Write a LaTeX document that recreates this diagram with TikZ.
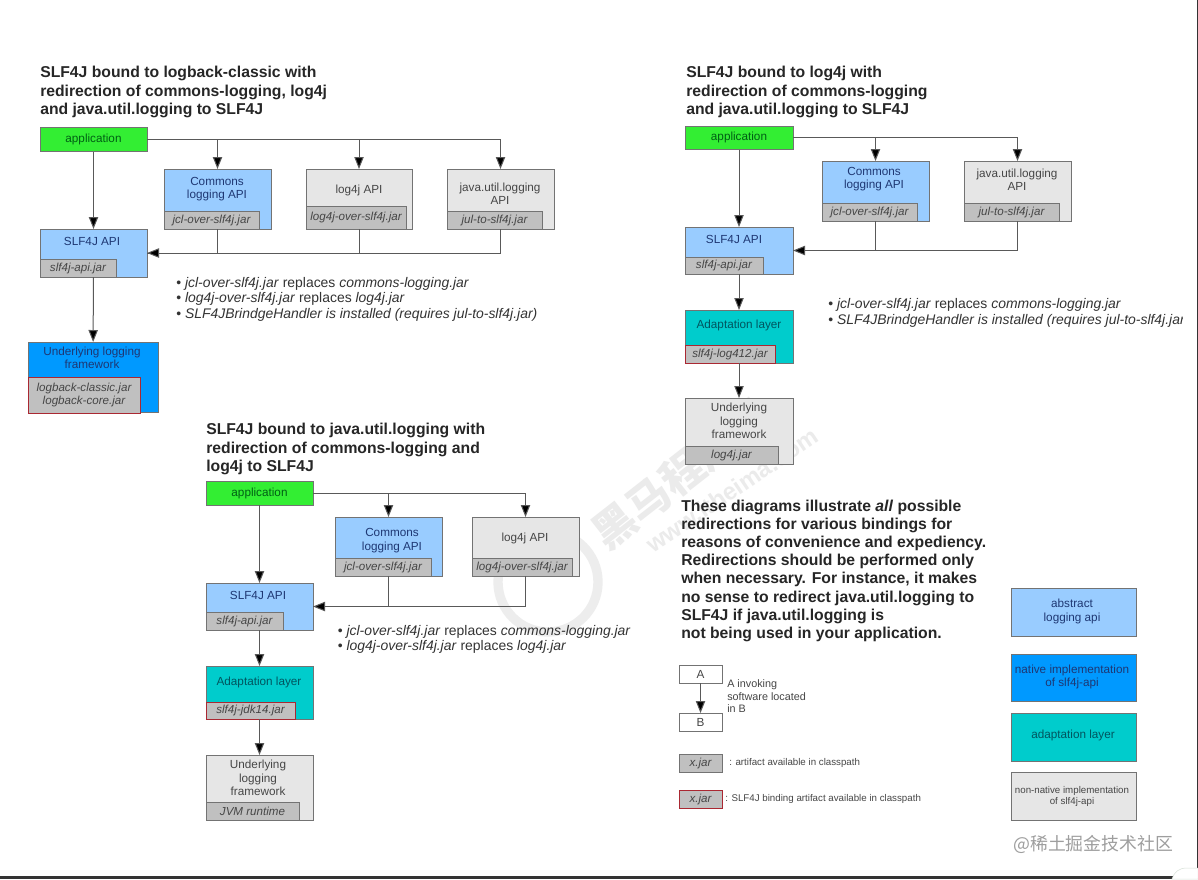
\documentclass[tikz,border=0pt]{standalone}
\usepackage{fontspec}
\setmainfont{Liberation Sans}
\newfontfamily\cjk{Noto Sans CJK SC}
\usetikzlibrary{arrows.meta}
\definecolor{appgreen}{RGB}{51,238,51}
\definecolor{apiblue}{RGB}{153,204,255}
\definecolor{nativeblue}{RGB}{0,153,255}
\definecolor{adapteal}{RGB}{0,204,204}
\definecolor{nonnative}{RGB}{230,230,230}
\definecolor{jargray}{RGB}{192,192,192}
\definecolor{jarred}{RGB}{170,40,50}
\definecolor{inkgray}{RGB}{70,70,70}
\definecolor{inkblue}{RGB}{30,55,115}
\definecolor{inkteal}{RGB}{0,85,95}
\definecolor{inkgreen}{RGB}{0,95,20}
\tikzset{
  boxlabel/.style={inner sep=0pt,align=center,font=\fontsize{8.8}{10}\selectfont,text=inkgray},
  bluelabel/.style={boxlabel,text=inkblue},
  teallabel/.style={boxlabel,text=inkteal},
  boxline/.style={draw=black!55,line width=0.75pt,inner sep=0pt,outer sep=0pt},
  conn/.style={draw=black!65,line width=0.75pt},
  connarrow/.style={conn,-{Triangle[length=9pt,width=7pt,fill=black]}},
  title/.style={anchor=west,inner sep=0pt,align=left,font=\bfseries\fontsize{11.8}{13.55}\selectfont,text=black!85},
  bullets/.style={anchor=north west,inner sep=0pt,align=left,font=\fontsize{10.45}{11.7}\selectfont,text=black!80},
  note/.style={inner sep=0pt,anchor=west,align=left,text=inkgray},
  jarlabel/.style={align=center,font=\itshape\fontsize{8.7}{10}\selectfont,text=inkgray},
}
% box: name, x1, y1, x2, y2, fill
\newcommand{\slfbox}[6]{
  \node[boxline,fill=#6,minimum width=#4*0.75pt-#2*0.75pt,minimum height=#5*0.75pt-#3*0.75pt,anchor=north west] (#1) at (#2,#3) {};
}
% jar tab: name, x1, y1, x2, y2, border colour, text
\newcommand{\jartab}[7]{
  \node[boxline,draw=#6,fill=jargray,minimum width=#4*0.75pt-#2*0.75pt,minimum height=#5*0.75pt-#3*0.75pt,anchor=north west,jarlabel] (#1) at (#2,#3) {#7};
}
\begin{document}
\begin{tikzpicture}[x=0.75pt,y=0.75pt,yscale=-1,xscale=1]
\useasboundingbox (0,0) rectangle (1198,879);
\fill[white] (0,0) rectangle (1198,879);

% watermark
\begin{scope}[black!7]
\draw[line width=7pt] (548,582) circle (50);
\node[rotate=38,text=black!8,inner sep=0pt,font=\cjk\bfseries\fontsize{32}{32}\selectfont] (wmark) at (682,473) {黑马程序员};
\node[rotate=34,text=black!8,inner sep=0pt,font=\bfseries\fontsize{18}{18}\selectfont] (wmurl) at (732,490) {www.itheima.com};
\end{scope}

%% first diagram: logback-classic
\node[title] (titleA) at (40,92) {SLF4J bound to logback-classic with\\redirection of commons-logging, log4j\\and java.util.logging to SLF4J};

\slfbox{appA}{40}{127.5}{147}{151.5}{appgreen}
\node[boxlabel,text=inkgreen] (appA-t) at (appA) {application};

\slfbox{clA}{164}{169}{271}{229}{apiblue}
\jartab{cljarA}{164}{211}{259}{229}{black!55}{jcl-over-slf4j.jar}
\node[bluelabel] (clA-t) at (217,189) {Commons\\logging API};

\slfbox{lgA}{306}{169}{412}{229}{nonnative}
\jartab{lgjarA}{306}{206}{406}{229}{black!55}{log4j-over-slf4j.jar}
\node[boxlabel] (lgA-t) at (359,190) {log4j API};

\slfbox{juA}{447}{169}{554}{229}{nonnative}
\jartab{jujarA}{447}{211}{542}{229}{black!55}{jul-to-slf4j.jar}
\node[boxlabel] (juA-t) at (500,194) {java.util.logging\\API};

\slfbox{apiA}{40}{229}{147}{277}{apiblue}
\jartab{apijarA}{40}{259}{116}{277}{black!55}{slf4j-api.jar}
\node[bluelabel] (apiA-t) at (92,241) {SLF4J API};

\slfbox{logA}{28}{342}{158}{412}{nativeblue}
\jartab{logjarA}{28}{377}{140}{413}{jarred}{logback-classic.jar\\logback-core.jar}
\node[bluelabel] (logA-t) at (92,358) {Underlying logging\\framework};

\draw[conn] (appA.east) -- (appA.east -| juA);
\draw[connarrow] (appA) -- (apiA);
\draw[connarrow] (appA.east -| clA) -- (clA);
\draw[connarrow] (appA.east -| lgA) -- (lgA);
\draw[connarrow] (appA.east -| juA) -- (juA);
\draw[conn] (lgA.south) -- (lgA.south |- apiA.east);
\draw[conn] (juA.south) |- (apiA.east);
\draw[connarrow] (clA.south) |- (apiA.east);
\draw[connarrow] (apiA) -- (logA);

\node[bullets] (notesA) at (176,277) {\textbullet\ \textit{jcl-over-slf4j.jar} replaces \textit{commons-logging.jar}\\\textbullet\ \textit{log4j-over-slf4j.jar} replaces \textit{log4j.jar}\\\textbullet\ \textit{SLF4JBrindgeHandler is installed (requires jul-to-slf4j.jar)}};

%% second diagram: log4j
\node[title] (titleB) at (686,92) {SLF4J bound to log4j with\\redirection of commons-logging\\and java.util.logging to SLF4J};

\slfbox{appB}{685}{126}{793}{149.5}{appgreen}
\node[boxlabel,text=inkgreen] (appB-t) at (appB) {application};

\slfbox{clB}{822}{161}{929}{221}{apiblue}
\jartab{cljarB}{822}{203}{917}{221}{black!55}{jcl-over-slf4j.jar}
\node[bluelabel] (clB-t) at (874,179) {Commons\\logging API};

\slfbox{juB}{964}{161}{1071}{221}{nonnative}
\jartab{jujarB}{964}{203}{1059}{221}{black!55}{jul-to-slf4j.jar}
\node[boxlabel] (juB-t) at (1017,180) {java.util.logging\\API};

\slfbox{apiB}{685}{227}{793}{274}{apiblue}
\jartab{apijarB}{685}{257}{763}{274}{black!55}{slf4j-api.jar}
\node[bluelabel] (apiB-t) at (734,239) {SLF4J API};

\slfbox{adB}{685}{310}{793}{363}{adapteal}
\jartab{adjarB}{685}{345}{775}{363}{jarred}{slf4j-log412.jar}
\node[teallabel] (adB-t) at (739,325) {Adaptation layer};

\slfbox{logB}{685}{398}{793}{464}{nonnative}
\jartab{logjarB}{685}{446}{778}{464}{black!55}{log4j.jar}
\node[boxlabel] (logB-t) at (739,421) {Underlying\\logging\\framework};

\draw[conn] (appB.east) -- (appB.east -| juB);
\draw[connarrow] (appB) -- (apiB);
\draw[connarrow] (appB.east -| clB) -- (clB);
\draw[connarrow] (appB.east -| juB) -- (juB);
\draw[conn] (juB.south) |- (apiB.east);
\draw[connarrow] (clB.south) |- (apiB.east);
\draw[connarrow] (apiB) -- (adB);
\draw[connarrow] (adB) -- (logB);

\begin{scope}
\clip (820,290) rectangle (1182,330);
\node[bullets] (notesB) at (828,298.5) {\textbullet\ \textit{jcl-over-slf4j.jar} replaces \textit{commons-logging.jar}\\\textbullet\ \textit{SLF4JBrindgeHandler is installed (requires jul-to-slf4j.jar)}};
\end{scope}

%% third diagram: java.util.logging
\node[title] (titleC) at (206,449) {SLF4J bound to java.util.logging with\\redirection of commons-logging and\\log4j to SLF4J};

\slfbox{appC}{206}{481}{313}{505}{appgreen}
\node[boxlabel,text=inkgreen] (appC-t) at (appC) {application};

\slfbox{clC}{335}{517}{442}{576}{apiblue}
\jartab{cljarC}{335}{558}{431}{576}{black!55}{jcl-over-slf4j.jar}
\node[bluelabel] (clC-t) at (392,540.5) {Commons\\logging API};

\slfbox{lgC}{472}{517}{579}{576}{nonnative}
\jartab{lgjarC}{472}{558}{572}{576}{black!55}{log4j-over-slf4j.jar}
\node[boxlabel] (lgC-t) at (525,538) {log4j API};

\slfbox{apiC}{206}{583}{313}{630}{apiblue}
\jartab{apijarC}{206}{612}{283}{630}{black!55}{slf4j-api.jar}
\node[bluelabel] (apiC-t) at (258,595) {SLF4J API};

\slfbox{adC}{206}{666}{313}{719}{adapteal}
\jartab{adjarC}{206}{702}{295}{719}{jarred}{slf4j-jdk14.jar}
\node[teallabel] (adC-t) at (259,682) {Adaptation layer};

\slfbox{logC}{206}{755}{313}{820}{nonnative}
\jartab{logjarC}{206}{802}{299}{820}{black!55}{JVM runtime}
\node[boxlabel] (logC-t) at (258,778) {Underlying\\logging\\framework};

\draw[conn] (appC.east) -- (appC.east -| lgC);
\draw[connarrow] (appC) -- (apiC);
\draw[connarrow] (appC.east -| clC) -- (clC);
\draw[connarrow] (appC.east -| lgC) -- (lgC);
\draw[conn] (lgC.south) |- (apiC.east);
\draw[connarrow] (clC.south) |- (apiC.east);
\draw[connarrow] (apiC) -- (adC);
\draw[connarrow] (adC) -- (logC);

\node[bullets] (notesC) at (337.5,625) {\textbullet\ \textit{jcl-over-slf4j.jar} replaces \textit{commons-logging.jar}\\\textbullet\ \textit{log4j-over-slf4j.jar} replaces \textit{log4j.jar}};

%% explanation and legend
\node[title,anchor=north west] (expl) at (681,500) {These diagrams illustrate \textit{all} possible\\redirections for various bindings for\\reasons of convenience and expediency.\\Redirections should be performed only\\when necessary. For instance, it makes\\no sense to redirect java.util.logging to\\SLF4J if java.util.logging is\\not being used in your application.};

\slfbox{keyA}{679}{665}{722}{683}{white}
\node[boxlabel] (keyA-t) at (keyA) {A};
\slfbox{keyB}{679}{713}{722}{731}{white}
\node[boxlabel] (keyB-t) at (keyB) {B};
\draw[connarrow] (keyA) -- (keyB);
\node[note,anchor=north west,font=\fontsize{8.1}{9.4}\selectfont] (keytext) at (727,679.5) {A invoking\\software located\\in B};

\jartab{keyjar}{679}{754}{722}{772}{black!55}{x.jar}
\node[note,font=\fontsize{7.3}{8}\selectfont] (keyjartext) at (729,763) {: artifact available in classpath};
\jartab{keybind}{679}{790}{722}{808.5}{jarred}{x.jar}
\node[note,font=\fontsize{7.3}{8}\selectfont] (keybindtext) at (725,798.5) {: SLF4J binding artifact available in classpath};

\slfbox{legA}{1011}{588}{1136}{636}{apiblue}
\node[bluelabel] (legA-t) at (1072,611.5) {abstract\\logging api};
\slfbox{legB}{1011}{654}{1136}{701}{nativeblue}
\node[bluelabel] (legB-t) at (1072,677) {native implementation\\of slf4j-api};
\slfbox{legC}{1011}{713}{1136}{761}{adapteal}
\node[teallabel] (legC-t) at (1073,735.5) {adaptation layer};
\slfbox{legD}{1011}{772}{1136}{820}{nonnative}
\node[boxlabel,font=\fontsize{7.3}{8.25}\selectfont] (legD-t) at (1072,796) {non-native implementation\\of slf4j-api};

% site mark and window edge
\node[note,text=black!38,font=\cjk\fontsize{13.4}{13.4}\selectfont] (site) at (1013,844) {@稀土掘金技术社区};
\fill[black!80] (0,876) rectangle (1198,879);
\fill[black!80] (1196.5,0) rectangle (1198,879);
\filldraw[draw=green!25!black!15,fill=white] (1172,879) .. controls (1174,872) and (1179,868) .. (1187,868) -- (1198,868) -- (1198,879) -- cycle;
\end{tikzpicture}
\end{document}
